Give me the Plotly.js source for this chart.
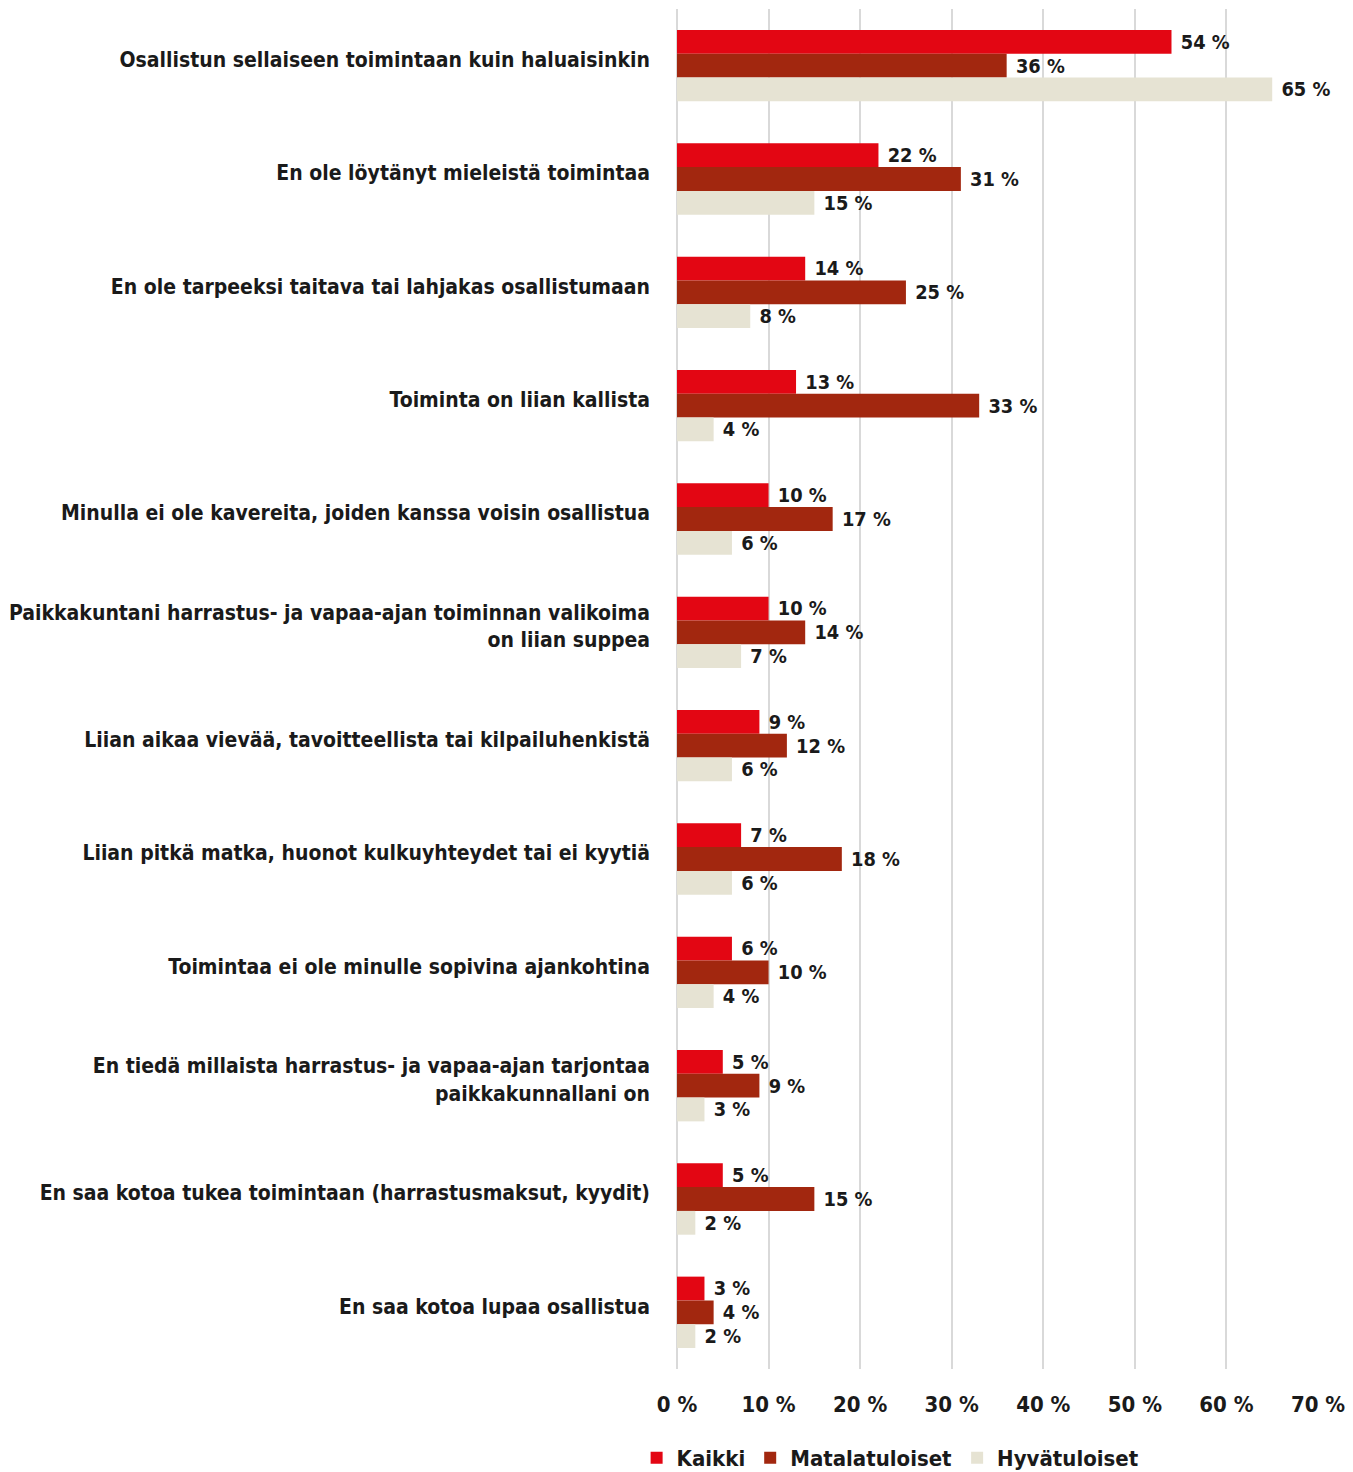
<!DOCTYPE html>
<html>
<head>
<meta charset="utf-8">
<script src="https://cdn.plot.ly/plotly-3.0.1.min.js"></script>
<style>
html,body{margin:0;padding:0;background:#fff;}
#chart{width:1353px;height:1472px;}
#chart text{font-stretch:condensed !important;}
</style>
</head>
<body>
<div id="chart"></div>
<script>
const categories = [
  "Osallistun sellaiseen toimintaan kuin haluaisinkin",
  "En ole löytänyt mieleistä toimintaa",
  "En ole tarpeeksi taitava tai lahjakas osallistumaan",
  "Toiminta on liian kallista",
  "Minulla ei ole kavereita, joiden kanssa voisin osallistua",
  "Paikkakuntani harrastus- ja vapaa-ajan toiminnan valikoima<br>on liian suppea",
  "Liian aikaa vievää, tavoitteellista tai kilpailuhenkistä",
  "Liian pitkä matka, huonot kulkuyhteydet tai ei kyytiä",
  "Toimintaa ei ole minulle sopivina ajankohtina",
  "En tiedä millaista harrastus- ja vapaa-ajan tarjontaa<br>paikkakunnallani on",
  "En saa kotoa tukea toimintaan (harrastusmaksut, kyydit)",
  "En saa kotoa lupaa osallistua"
];
const seriesNames = ["Kaikki", "Matalatuloiset", "Hyvätuloiset"];
const kaikki =         [54, 22, 14, 13, 10, 10,  9,  7,  6, 5,  5, 3];
const matalatuloiset = [36, 31, 25, 33, 17, 14, 12, 18, 10, 9, 15, 4];
const hyvatuloiset =   [65, 15,  8,  4,  6,  7,  6,  6,  4, 3,  2, 2];
const colors = ["#E30613", "#A2270F", "#E6E3D3"];

const FONT = "'DejaVu Sans Condensed', 'DejaVu Sans', sans-serif";
const values = [kaikki, matalatuloiset, hyvatuloiset];

const traces = values.map((v, i) => ({
  type: "bar",
  orientation: "h",
  name: seriesNames[i],
  x: v,
  y: categories,
  marker: {color: colors[i], line: {width: 0}},
  text: v.map(d => "\u00a0" + d + " %"),
  textposition: "outside",
  cliponaxis: false,
  textfont: {family: FONT, size: 20, color: "#1a1a1a", weight: "bold"},
  hoverinfo: "x+y"
}));

const layout = {
  width: 1353,
  height: 1472,
  margin: {l: 677, r: 35, t: 9, b: 103},
  barmode: "group",
  bargap: 0.37,
  bargroupgap: 0,
  paper_bgcolor: "#fff",
  plot_bgcolor: "#fff",
  font: {family: FONT, color: "#1a1a1a", weight: "bold"},
  showlegend: true,
  legend: {
    orientation: "h",
    xref: "paper",
    x: -0.063, xanchor: "left",
    yref: "container",
    y: 0.0095, yanchor: "middle",
    font: {family: FONT, size: 22, color: "#1a1a1a", weight: "bold"},
    itemwidth: 30,
    traceorder: "normal"
  },
  xaxis: {
    range: [0, 70],
    dtick: 10,
    tick0: 0,
    ticksuffix: " %",
    showgrid: true,
    gridcolor: "#d9d9d9",
    gridwidth: 2,
    zeroline: true,
    zerolinecolor: "#d9d9d9",
    zerolinewidth: 2,
    showline: false,
    ticks: "",
    ticklabelstandoff: 20,
    automargin: false,
    tickfont: {family: FONT, size: 22, color: "#1a1a1a", weight: "bold"},
    fixedrange: true
  },
  yaxis: {
    autorange: "reversed",
    type: "category",
    showgrid: false,
    zeroline: false,
    showline: false,
    ticks: "",
    ticklabelstandoff: 26,
    ticklabelshift: 6,
    automargin: false,
    tickfont: {family: FONT, size: 21, color: "#1a1a1a", weight: "bold"},
    fixedrange: true
  }
};

Plotly.newPlot("chart", traces, layout, {displayModeBar: false, staticPlot: true});
</script>
</body>
</html>
